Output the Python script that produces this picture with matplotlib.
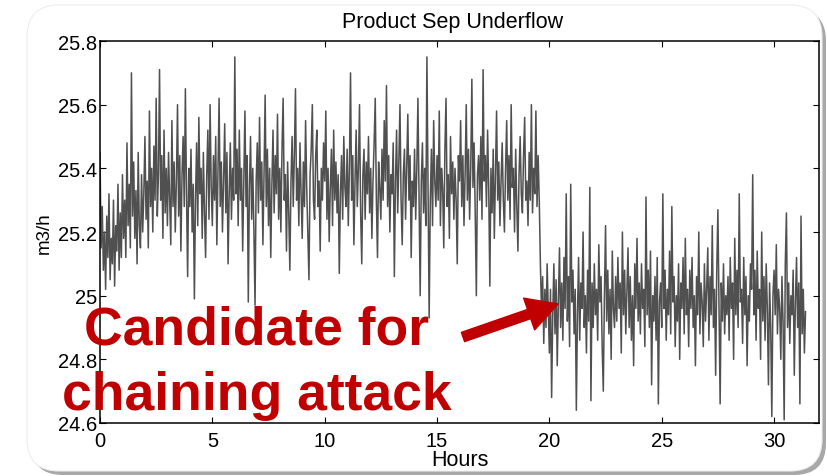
import numpy as np
import matplotlib
matplotlib.use("Agg")
import matplotlib.pyplot as plt
from matplotlib.patches import FancyBboxPatch, FancyArrowPatch
from matplotlib.transforms import IdentityTransform
from matplotlib.ticker import FuncFormatter

plt.rcParams['font.family'] = ['Liberation Sans', 'DejaVu Sans']

# sample interval of the logged signal (hours)
dt = 0.05

# product separator underflow, m3/h (20 samples per hour)
flow = [
    25.45, 25.15, 25.28, 25.08, 25.20, 25.02, 25.25, 25.12, 25.32, 25.05, 25.18, 25.10, 25.30, 25.03, 25.22, 25.14, 25.35, 25.08, 25.26, 25.12,
    25.38, 25.18, 25.30, 25.12, 25.48, 25.22, 25.35, 25.15, 25.70, 25.25, 25.42, 25.18, 25.33, 25.10, 25.45, 25.22, 25.15, 25.38, 25.20, 25.32,
    25.50, 25.24, 25.36, 25.15, 25.58, 25.28, 25.40, 25.20, 25.47, 25.30, 25.62, 25.25, 25.38, 25.71, 25.30, 25.44, 25.18, 25.52, 25.26, 25.40,
    25.22, 25.45, 25.30, 25.16, 25.55, 25.28, 25.42, 25.20, 25.36, 25.60, 25.25, 25.44, 25.14, 25.38, 25.50, 25.28, 25.65, 25.32, 25.06, 25.40,
    25.28, 25.46, 25.20, 25.35, 24.99, 25.30, 25.48, 25.22, 25.56, 25.32, 25.40, 25.18, 25.45, 25.26, 25.12, 25.38, 25.52, 25.24, 25.60, 25.34,
    25.22, 25.44, 25.30, 25.50, 25.16, 25.38, 25.62, 25.28, 25.42, 25.20, 25.36, 25.54, 25.26, 25.45, 25.10, 25.32, 25.48, 25.24, 25.40, 25.30,
    25.75, 25.32, 25.46, 25.22, 25.52, 25.30, 25.40, 25.14, 25.36, 25.58, 25.28, 25.44, 24.98, 25.34, 25.50, 25.24, 25.40, 25.20, 24.97, 25.36,
    25.48, 25.26, 25.56, 25.30, 25.42, 25.16, 25.38, 25.63, 25.28, 25.46, 25.22, 25.40, 25.12, 25.35, 25.52, 25.26, 25.44, 25.32, 25.57, 25.24,
    25.40, 25.20, 25.46, 25.62, 25.30, 25.38, 25.14, 25.42, 25.26, 25.08, 25.36, 25.50, 25.28, 25.44, 25.65, 25.30, 25.40, 25.22, 25.48, 25.32,
    25.18, 25.42, 25.28, 25.55, 25.34, 25.20, 25.05, 25.38, 25.46, 25.60, 25.30, 25.24, 25.44, 25.52, 25.28, 25.36, 25.14, 25.40, 25.30, 25.48,
    25.36, 25.58, 25.24, 25.40, 25.17, 25.34, 25.46, 25.22, 25.52, 25.30, 25.42, 25.26, 25.38, 25.07, 25.32, 25.44, 25.24, 25.50, 25.34, 25.28,
    25.46, 25.22, 25.40, 25.70, 25.30, 25.44, 25.16, 25.36, 25.52, 25.28, 25.40, 25.60, 25.26, 25.10, 25.38, 25.46, 25.24, 25.42, 25.32, 25.50,
    25.26, 25.40, 25.18, 25.36, 25.48, 25.62, 25.30, 25.12, 25.42, 25.34, 25.24, 25.46, 25.30, 25.55, 25.36, 25.66, 25.28, 25.44, 25.20, 25.38,
    25.32, 25.48, 25.06, 25.36, 25.52, 25.26, 25.42, 25.60, 25.30, 25.16, 25.38, 25.46, 25.24, 25.40, 25.57, 25.30, 25.44, 25.12, 25.36, 25.28,
    25.46, 25.24, 25.40, 25.62, 25.30, 25.00, 25.36, 25.48, 25.26, 25.40, 25.22, 25.75, 25.34, 24.93, 25.30, 25.46, 25.22, 25.55, 25.36, 25.28,
    25.44, 25.30, 25.58, 25.22, 25.40, 25.34, 25.15, 25.46, 25.62, 25.28, 25.38, 25.18, 25.50, 25.32, 25.42, 25.24, 25.40, 25.30, 25.10, 25.44,
    25.36, 25.55, 25.28, 25.44, 25.22, 25.38, 25.60, 25.30, 25.46, 25.24, 25.40, 25.68, 25.34, 25.48, 25.26, 25.00, 25.38, 25.44, 25.30, 25.50,
    25.24, 25.71, 25.36, 25.44, 25.28, 25.52, 25.34, 25.03, 25.40, 25.26, 25.46, 25.18, 25.38, 25.58, 25.30, 25.42, 25.22, 25.36, 25.48, 25.30,
    25.20, 25.40, 25.55, 25.30, 25.44, 25.24, 25.60, 25.34, 25.40, 25.20, 25.46, 25.28, 25.14, 25.38, 25.50, 25.32, 25.26, 25.44, 25.56, 25.30,
    25.36, 25.22, 25.45, 25.30, 25.60, 25.26, 25.40, 25.32, 25.58, 25.28, 25.44, 25.30, 25.10, 24.95, 25.06, 24.85, 25.02, 24.90, 25.10, 24.96,
    24.82, 25.02, 24.68, 24.94, 25.10, 24.88, 25.05, 24.78, 24.98, 25.15, 24.90, 25.04, 24.86, 25.12, 24.96, 25.32, 24.92, 25.06, 24.84, 25.35,
    24.98, 25.08, 24.88, 25.02, 24.64, 24.94, 25.12, 24.86, 25.04, 24.96, 25.20, 24.90, 25.00, 24.82, 25.08, 24.92, 25.34, 24.67, 25.04, 24.90,
    25.10, 24.94, 25.02, 24.86, 25.16, 24.98, 25.06, 24.84, 24.70, 25.00, 25.22, 24.92, 25.08, 24.88, 25.02, 24.80, 25.14, 24.96, 24.90, 25.06,
    24.92, 25.12, 24.96, 25.04, 24.82, 25.20, 24.94, 25.08, 24.88, 25.02, 25.15, 24.90, 25.06, 24.86, 25.00, 24.78, 25.10, 24.96, 25.18, 24.92,
    25.04, 24.88, 25.10, 24.96, 25.02, 24.84, 25.31, 24.94, 25.08, 24.90, 25.14, 24.72, 25.00, 24.92, 25.06, 24.86, 25.12, 24.66, 24.98, 25.04,
    24.90, 25.32, 24.96, 25.08, 24.86, 25.02, 24.94, 25.14, 24.88, 25.28, 24.98, 25.06, 24.84, 25.00, 24.92, 25.10, 24.80, 25.04, 24.96, 25.12,
    24.88, 25.18, 24.94, 25.02, 24.84, 25.08, 24.96, 25.12, 24.90, 25.00, 24.78, 25.06, 24.94, 25.20, 24.88, 25.04, 24.98, 24.84, 25.10, 24.92,
    25.02, 25.15, 24.86, 25.06, 24.94, 25.22, 24.90, 25.02, 24.75, 25.08, 25.27, 24.96, 24.66, 25.04, 24.92, 25.10, 24.88, 25.00, 24.94, 25.06,
    24.86, 25.12, 24.96, 25.04, 24.80, 25.18, 24.94, 25.08, 24.90, 25.32, 24.98, 25.02, 24.85, 25.12, 24.94, 25.06, 24.78, 25.00, 24.92, 25.10,
    25.02, 25.38, 24.94, 25.08, 24.86, 25.14, 24.96, 25.02, 24.80, 25.20, 24.92, 25.06, 24.86, 25.10, 24.96, 24.72, 25.04, 24.90, 24.62, 25.00,
    25.08, 24.94, 25.16, 24.88, 25.02, 24.96, 24.80, 25.06, 24.92, 24.61, 25.10, 25.26, 24.90, 25.04, 24.85, 25.00, 24.94, 25.08, 24.75, 24.98,
    25.12, 24.90, 25.04, 24.66, 25.25, 24.88, 25.02, 24.82, 24.95,
]
hours = np.arange(len(flow)) * dt

x_ticks = [0, 5, 10, 15, 20, 25, 30]
y_ticks = [24.6, 24.8, 25.0, 25.2, 25.4, 25.6, 25.8]

fig = plt.figure(figsize=(8.28, 4.77), dpi=100)

# slide-style rounded frame with drop shadow (pixel coords)
shadow = FancyBboxPatch((31, 1), 795, 466, boxstyle="round,pad=0,rounding_size=32",
                        transform=IdentityTransform(), facecolor="#a8a8a8",
                        edgecolor="none", zorder=0)
frame = FancyBboxPatch((27, 5), 795, 466, boxstyle="round,pad=0,rounding_size=32",
                       transform=IdentityTransform(), facecolor="white",
                       edgecolor="#eeeeee", linewidth=0.8, zorder=1)
fig.patches.extend([shadow, frame])

ax = fig.add_axes([100 / 828, 1 - 424 / 477, 719 / 828, 382 / 477])
ax.set_zorder(2)
ax.plot(hours, flow, color="#505050", linewidth=1.1)

ax.set_xlim(0, 32)
ax.set_ylim(24.6, 25.8)
ax.set_xticks(x_ticks)
ax.set_yticks(y_ticks)
ax.yaxis.set_major_formatter(FuncFormatter(lambda v, p: f"{v:g}"))
ax.tick_params(direction="in", length=4, width=0.8, top=True, right=True,
               labelsize=14.5, colors="black")
ax.tick_params(axis="x", pad=6)
ax.tick_params(axis="y", pad=2)
for s in ax.spines.values():
    s.set_linewidth(1.1)

ax.set_title("Product Sep Underflow", fontsize=15.5, pad=10, x=0.49)
ax.set_xlabel("Hours", fontsize=15.5, labelpad=-1)
ax.set_ylabel("m3/h", fontsize=13.5, labelpad=4)

red = "#C00000"
fig.text(257 / 828, 1 - 345 / 477, "Candidate for", color=red, fontsize=38.5,
         fontweight="bold", ha="center", va="baseline", zorder=5)
fig.text(257 / 828, 1 - 410 / 477, "chaining attack", color=red, fontsize=38.5,
         fontweight="bold", ha="center", va="baseline", zorder=5)

arrow = FancyArrowPatch((463, 477 - 338), (558, 477 - 305),
                        transform=IdentityTransform(),
                        arrowstyle="simple,head_length=1.0,head_width=1.1,tail_width=0.32",
                        mutation_scale=22, color=red, shrinkA=0, shrinkB=0, zorder=6)
fig.patches.append(arrow)

fig.savefig("out.png", dpi=100)
